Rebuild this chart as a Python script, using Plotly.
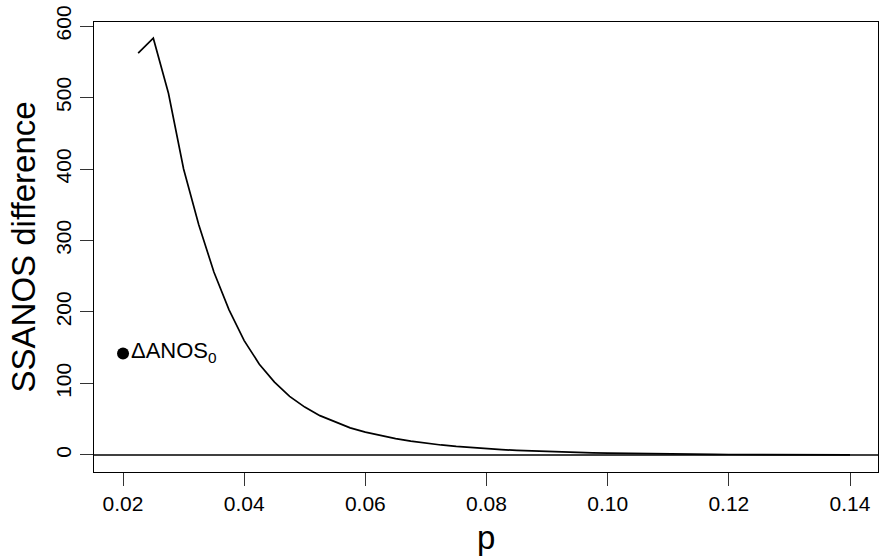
import plotly.graph_objects as go

# Data
p_vals = [0.0225, 0.025, 0.0275, 0.03, 0.0325, 0.035, 0.0375, 0.04, 0.0425, 0.045,
          0.0475, 0.05, 0.0525, 0.055, 0.0575, 0.06, 0.0625, 0.065, 0.0675, 0.07,
          0.0725, 0.075, 0.0775, 0.08, 0.0825, 0.085, 0.0875, 0.09, 0.0925, 0.095,
          0.0975, 0.1, 0.1025, 0.105, 0.1075, 0.11, 0.1125, 0.115, 0.1175, 0.12,
          0.1225, 0.125, 0.1275, 0.13, 0.1325, 0.135, 0.1375, 0.14]
ssanos_diff = [562, 583, 506, 400, 322, 256, 203, 160, 127, 102,
               82, 67, 55, 46, 38, 32, 27, 23, 19.5, 16.5,
               14, 12, 10.3, 8.8, 7.5, 6.4, 5.5, 4.7, 4.0, 3.4,
               2.9, 2.5, 2.1, 1.8, 1.5, 1.3, 1.1, 0.95, 0.8, 0.7,
               0.6, 0.5, 0.43, 0.37, 0.32, 0.27, 0.23, 0.2]
point_p = [0.02]
point_val = [142]
x_ticks = [0.02, 0.04, 0.06, 0.08, 0.10, 0.12, 0.14]
x_tick_labels = ["0.02", "0.04", "0.06", "0.08", "0.10", "0.12", "0.14"]
y_ticks = [0, 100, 200, 300, 400, 500, 600]

FONT = "Liberation Sans, Arial, Helvetica, sans-serif"

fig = go.Figure()
fig.add_trace(go.Scatter(x=p_vals, y=ssanos_diff, mode="lines",
                         line=dict(color="black", width=1.7), showlegend=False,
                         hoverinfo="skip"))
fig.add_trace(go.Scatter(x=point_p, y=point_val, mode="markers",
                         marker=dict(color="black", size=12), showlegend=False))

fig.add_shape(type="line", xref="paper", yref="y", x0=0, x1=1, y0=0, y1=0,
              line=dict(color="black", width=1.5))

fig.add_annotation(x=point_p[0], y=point_val[0], xref="x", yref="y",
                   text="ΔANOS<sub>0</sub>", showarrow=False, xanchor="left",
                   yanchor="middle", xshift=6, yshift=1,
                   font=dict(family=FONT, size=22, color="black"))

fig.add_annotation(x=0.5, y=-0.145, xref="paper", yref="paper", text="p",
                   showarrow=False, xanchor="center", yanchor="middle",
                   font=dict(family=FONT, size=33, color="black"))
fig.add_annotation(x=-0.09, y=0.5, xref="paper", yref="paper", text="SSANOS difference",
                   showarrow=False, xanchor="center", yanchor="middle", textangle=-90,
                   font=dict(family=FONT, size=33, color="black"))

fig.update_layout(
    width=881, height=558,
    margin=dict(l=94, r=3, t=22, b=86),
    paper_bgcolor="white", plot_bgcolor="white",
    font=dict(family=FONT, size=22, color="black"),
    xaxis=dict(range=[0.01521, 0.14462], tickvals=x_ticks, ticktext=x_tick_labels,
               showgrid=False, zeroline=False, showline=True, mirror=True,
               linecolor="black", linewidth=1.3, ticks="outside", ticklen=13,
               tickcolor="#333", tickwidth=1, tickfont=dict(size=21)),
    yaxis=dict(range=[-23.8, 605.6], tickvals=y_ticks,
               showgrid=False, zeroline=False, showline=True, mirror=True,
               linecolor="black", linewidth=1.3, ticks="outside", ticklen=13,
               tickcolor="#333", tickwidth=1, tickangle=-90, tickfont=dict(size=21)),
)

fig.write_html("out.html")
